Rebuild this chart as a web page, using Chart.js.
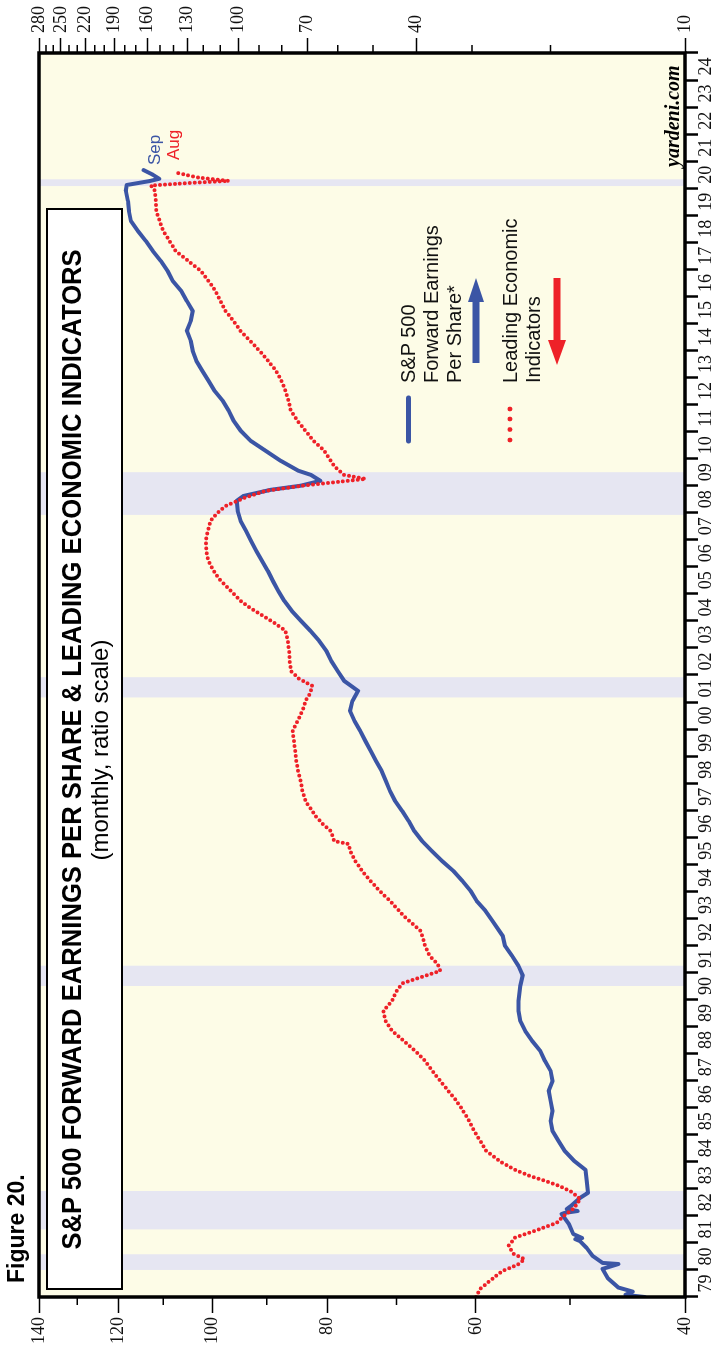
<!DOCTYPE html>
<html>
<head>
<meta charset="utf-8">
<script src="https://cdn.jsdelivr.net/npm/chart.js@4.4.1/dist/chart.umd.min.js"></script>
<style>
  html, body { margin: 0; padding: 0; background: #fff; overflow: hidden; }
  #wrap {
    position: absolute; left: 0; top: 0; width: 1351px; height: 716px;
    transform-origin: 0 0; transform: translate(0, 1351px) rotate(-90deg);
  }
  #chart { position: absolute; left: 0; top: 0; }
  .t { position: absolute; white-space: nowrap; line-height: 1; font-family: "Liberation Sans", Arial, sans-serif; }
  #titleBox { position: absolute; left: 61px; top: 46px; width: 1082px; height: 77px;
    box-sizing: border-box; border: 2.5px solid #000; background: #fff; }
</style>
</head>
<body>
<div id="wrap">
  <canvas id="chart" width="1351" height="716"></canvas>
  <div class="t" id="fig" style="left:68px; top:5px; font-size:23px; font-weight:bold;">Figure 20.</div>
  <div id="titleBox"></div>
  <div class="t" id="title" style="top:58px; font-size:28px; font-weight:bold;">S&amp;P 500 FORWARD EARNINGS PER SHARE &amp; LEADING ECONOMIC INDICATORS</div>
  <div class="t" id="subtitle" style="top:88px; font-size:24px;">(monthly, ratio scale)</div>
  <div class="t" style="left:968px; top:398px; font-size:20px; color:#111;">S&amp;P 500</div>
  <div class="t" style="left:968px; top:421px; font-size:20px; color:#111;">Forward Earnings</div>
  <div class="t" style="left:968px; top:444px; font-size:20px; color:#111;">Per Share*</div>
  <div class="t" style="left:968px; top:500px; font-size:20px; color:#111;">Leading Economic</div>
  <div class="t" style="left:968px; top:523px; font-size:20px; color:#111;">Indicators</div>
  <div class="t" style="left:1186px; top:146px; font-size:17px; color:#3b55a5;">Sep</div>
  <div class="t" style="left:1191px; top:165px; font-size:17px; color:#ee2128;">Aug</div>
  <div class="t" id="yard" style="top:662px; font-size:20px; font-weight:bold; font-style:italic; font-family:'Liberation Serif','Times New Roman',serif;">yardeni.com</div>
</div>
<script>
// S&P 500 forward earnings per share (right scale), decimal year / value
const epsDates = [1979.00, 1979.08, 1979.20, 1979.35, 1979.70, 1980.04, 1980.22, 1980.26, 1980.52, 1980.81,
  1981.07, 1981.14, 1981.18, 1981.33, 1981.70, 1982.07, 1982.11, 1982.18, 1982.25, 1982.37,
  1982.66, 1982.85, 1983.29, 1983.70, 1984.03, 1984.40, 1984.77, 1985.14, 1985.51, 1985.88,
  1986.25, 1986.62, 1986.99, 1987.36, 1987.73, 1988.10, 1988.47, 1988.84, 1989.21, 1989.58,
  1989.95, 1990.50, 1990.90, 1991.24, 1991.61, 1991.98, 1992.35, 1992.91, 1993.28, 1993.65,
  1994.01, 1994.38, 1994.75, 1995.12, 1995.49, 1995.86, 1996.23, 1996.60, 1996.97, 1997.34,
  1997.71, 1998.08, 1998.45, 1998.82, 1999.19, 1999.56, 1999.93, 2000.30, 2000.67, 2001.04,
  2001.41, 2001.78, 2002.15, 2002.52, 2002.89, 2003.26, 2003.63, 2004.00, 2004.37, 2004.74,
  2005.11, 2005.48, 2005.85, 2006.22, 2006.59, 2006.96, 2007.33, 2007.70, 2008.07, 2008.44,
  2008.62, 2008.85, 2009.00, 2009.18, 2009.40, 2009.55, 2009.92, 2010.29, 2010.66, 2011.03,
  2011.40, 2011.77, 2012.14, 2012.51, 2012.88, 2013.25, 2013.62, 2013.99, 2014.36, 2014.73,
  2015.09, 2015.46, 2015.83, 2016.20, 2016.57, 2016.94, 2017.31, 2017.68, 2018.05, 2018.42,
  2018.79, 2019.16, 2019.53, 2019.90, 2020.12, 2020.27, 2020.35, 2020.50, 2020.67];
const epsValues = [12.3, 13.6, 13.1, 14.1, 14.9, 15.3, 14.1, 15.3, 16.1, 16.6,
  17.2, 17.6, 17.0, 17.8, 18.2, 18.9, 18.6, 17.4, 18.4, 18.0,
  17.2, 16.5, 16.6, 16.7, 17.7, 18.6, 19.2, 19.8, 20.0, 19.8,
  20.0, 20.2, 19.8, 20.0, 20.6, 21.1, 22.0, 22.8, 23.4, 23.6,
  23.6, 23.4, 23.1, 23.6, 24.4, 25.3, 25.6, 27.0, 28.0, 29.3,
  30.2, 31.5, 33.0, 35.0, 36.9, 38.8, 40.4, 41.6, 43.0, 44.6,
  45.8, 46.8, 47.8, 49.2, 50.6, 52.0, 53.4, 55.0, 56.3, 55.6,
  54.0, 58.0, 60.0, 62.0, 63.6, 66.0, 69.0, 72.5, 76.0, 79.0,
  81.5, 83.8, 86.0, 88.6, 91.3, 93.8, 96.3, 99.0, 100.5, 101.0,
  97.5, 84.6, 72.6, 65.6, 68.9, 73.4, 80.5, 87.0, 94.0, 98.9,
  102.6, 105.2, 108.5, 113.2, 116.8, 120.6, 124.4, 126.7, 128.0, 130.6,
  128.0, 126.7, 130.6, 134.4, 140.5, 144.2, 149.4, 155.7, 161.4, 168.1,
  174.3, 176.1, 177.0, 178.9, 178.0, 157.7, 150.6, 155.7, 163.3];

// Leading economic indicators (left scale)
const leiDates = [1979.00, 1979.30, 1979.60, 1979.96, 1980.20, 1980.40, 1980.60, 1980.90, 1981.20, 1981.45,
  1981.74, 1982.00, 1982.29, 1982.62, 1982.90, 1983.10, 1983.30, 1983.47, 1983.70, 1984.00,
  1984.40, 1984.77, 1985.14, 1985.51, 1985.88, 1986.25, 1986.62, 1986.99, 1987.36, 1987.73,
  1988.10, 1988.47, 1988.84, 1989.21, 1989.58, 1989.95, 1990.30, 1990.60, 1990.85, 1991.06,
  1991.30, 1991.60, 1991.98, 1992.54, 1993.09, 1993.65, 1994.01, 1994.38, 1994.75, 1995.12,
  1995.50, 1995.75, 1995.86, 1996.23, 1996.50, 1996.79, 1997.34, 1997.71, 1998.08, 1998.45,
  1998.82, 1999.20, 1999.56, 1999.93, 2000.30, 2000.67, 2001.04, 2001.30, 2001.60, 2001.85,
  2002.15, 2002.52, 2002.89, 2003.26, 2003.63, 2003.90, 2004.18, 2004.46, 2004.74, 2005.11,
  2005.48, 2005.85, 2006.22, 2006.59, 2006.96, 2007.33, 2007.70, 2008.00, 2008.25, 2008.55,
  2008.81, 2009.00, 2009.25, 2009.40, 2009.73, 2010.29, 2010.66, 2011.03, 2011.40, 2011.77,
  2012.14, 2012.51, 2012.88, 2013.25, 2013.62, 2013.99, 2014.36, 2014.72, 2015.09, 2015.46,
  2015.83, 2016.20, 2016.57, 2016.94, 2017.31, 2017.68, 2018.05, 2018.42, 2018.79, 2019.16,
  2019.53, 2019.90, 2020.10, 2020.20, 2020.27, 2020.40, 2020.58];
const leiValues = [60.0, 59.5, 58.4, 57.0, 55.3, 54.6, 55.8, 56.3, 55.6, 53.5,
  51.3, 50.6, 49.6, 49.0, 49.9, 51.0, 52.5, 54.0, 55.6, 57.2,
  58.8, 59.5, 60.2, 60.8, 61.5, 62.3, 63.3, 64.3, 65.3, 66.2,
  67.5, 69.0, 70.6, 71.5, 71.8, 70.6, 70.0, 69.2, 66.5, 64.3,
  64.6, 65.6, 66.2, 66.8, 69.0, 70.9, 72.3, 73.6, 74.8, 75.8,
  76.6, 76.8, 79.0, 79.5, 80.8, 81.9, 83.5, 84.0, 84.3, 84.7,
  85.0, 85.2, 85.4, 85.6, 84.8, 84.0, 83.5, 82.8, 82.4, 84.5,
  85.9, 86.1, 86.2, 86.4, 86.8, 88.5, 90.6, 92.8, 94.7, 96.5,
  98.4, 99.8, 100.8, 101.2, 101.3, 100.9, 100.4, 99.0, 97.5, 94.0,
  90.2, 84.0, 74.3, 77.5, 79.0, 80.5, 82.2, 83.5, 84.8, 85.9,
  86.3, 86.8, 87.5, 88.4, 89.8, 91.3, 93.0, 94.7, 96.0, 97.5,
  98.5, 99.4, 100.8, 102.3, 104.8, 107.4, 108.7, 110.0, 110.8, 111.5,
  111.6, 111.8, 112.7, 104.0, 96.9, 103.0, 107.4];

// recessions (start, end as decimal years)
const recessionStart = [1980.00, 1981.50, 1990.50, 2001.17, 2007.92, 2020.08];
const recessionEnd = [1980.58, 1982.92, 1991.25, 2001.92, 2009.50, 2020.33];

const leiTicks = [40, 50, 60, 70, 80, 90, 100, 110, 120, 130, 140];
const leiLabels = [40, 60, 80, 100, 120, 140];
const epsTicks = [10, 20, 30, 40, 50, 60, 70, 80, 90, 100, 110, 120, 130, 140, 150, 160, 170, 180, 190,
  200, 210, 220, 230, 240, 250, 260, 270, 280];
const epsLabels = [10, 40, 70, 100, 130, 160, 190, 220, 250, 280];

const BLUE = '#3b55a5';
const RED = '#ee2128';
const CREAM = '#fdfce7';
const BAND = '#e6e6f2';
const tickFont = { family: "'Liberation Serif', 'Times New Roman', serif", size: 18 };

const decor = {
  id: 'decor',
  beforeDraw(chart) {
    const { ctx, chartArea: a } = chart;
    ctx.save();
    ctx.fillStyle = CREAM;
    ctx.fillRect(a.left, a.top, a.right - a.left, a.bottom - a.top);
    ctx.restore();
  },
  beforeDatasetsDraw(chart) {
    const { ctx, chartArea: a } = chart;
    const x = chart.scales.x;
    ctx.save();
    ctx.fillStyle = BAND;
    recessionStart.forEach((s, i) => {
      const x0 = x.getPixelForValue(s), x1 = x.getPixelForValue(recessionEnd[i]);
      ctx.fillRect(x0, a.top, x1 - x0, a.bottom - a.top);
    });
    ctx.restore();
  },
  afterDatasetsDraw(chart) {
    const { ctx, chartArea: a } = chart;
    ctx.save();
    ctx.strokeStyle = '#000';
    ctx.lineWidth = 3.5;
    ctx.strokeRect(a.left, a.top, a.right - a.left, a.bottom - a.top);
    // minor ticks
    ctx.lineWidth = 1.5;
    ctx.beginPath();
    const yl = chart.scales.yL, yr = chart.scales.yR;
    leiTicks.filter(v => !leiLabels.includes(v)).forEach(v => {
      const y = yl.getPixelForValue(v);
      ctx.moveTo(a.left - 8, y); ctx.lineTo(a.left, y);
    });
    epsTicks.filter(v => !epsLabels.includes(v)).forEach(v => {
      const y = yr.getPixelForValue(v);
      ctx.moveTo(a.right, y); ctx.lineTo(a.right + 8, y);
    });
    ctx.stroke();
    ctx.restore();
  },
  afterDraw(chart) {
    const ctx = chart.ctx;
    ctx.save();
    // legend swatches
    ctx.strokeStyle = BLUE; ctx.lineWidth = 5; ctx.lineCap = 'round';
    ctx.beginPath(); ctx.moveTo(910, 408.5); ctx.lineTo(953, 408.5); ctx.stroke();
    ctx.fillStyle = RED;
    [911, 921.5, 932, 942].forEach(px => { ctx.beginPath(); ctx.arc(px, 510, 2.4, 0, Math.PI * 2); ctx.fill(); });
    // arrows
    ctx.lineCap = 'butt';
    ctx.lineWidth = 7;
    ctx.strokeStyle = BLUE; ctx.fillStyle = BLUE;
    ctx.beginPath(); ctx.moveTo(988, 476); ctx.lineTo(1051, 476); ctx.stroke();
    ctx.beginPath(); ctx.moveTo(1073, 476); ctx.lineTo(1049, 468); ctx.lineTo(1049, 484); ctx.closePath(); ctx.fill();
    ctx.strokeStyle = RED; ctx.fillStyle = RED;
    ctx.beginPath(); ctx.moveTo(1008, 557); ctx.lineTo(1073, 557); ctx.stroke();
    ctx.beginPath(); ctx.moveTo(986, 557); ctx.lineTo(1011, 548); ctx.lineTo(1011, 566); ctx.closePath(); ctx.fill();
    ctx.restore();
  }
};

new Chart(document.getElementById('chart').getContext('2d'), {
  type: 'line',
  data: {
    datasets: [
      {
        label: 'Leading Economic Indicators',
        data: leiDates.map((d, i) => ({ x: d, y: leiValues[i] })),
        yAxisID: 'yL',
        borderColor: RED,
        borderWidth: 4,
        borderDash: [0, 5],
        borderCapStyle: 'round',
        pointRadius: 0,
        tension: 0,
      },
      {
        label: 'S&P 500 Forward Earnings Per Share*',
        data: epsDates.map((d, i) => ({ x: d, y: epsValues[i] })),
        yAxisID: 'yR',
        borderColor: BLUE,
        borderWidth: 4,
        borderJoinStyle: 'round',
        borderCapStyle: 'round',
        pointRadius: 0,
        tension: 0,
      },
    ],
  },
  options: {
    responsive: false,
    animation: false,
    devicePixelRatio: 1,
    layout: { padding: { top: 39, left: 0, right: 0, bottom: 0 } },
    plugins: { legend: { display: false }, tooltip: { enabled: false } },
    scales: {
      x: {
        type: 'linear', min: 1979, max: 2025,
        afterFit: s => { s.height = 31; },
        border: { display: false },
        grid: { drawOnChartArea: false, tickLength: 13, tickWidth: 2.5, tickColor: '#000' },
        ticks: {
          stepSize: 1, autoSkip: false, maxRotation: 0, minRotation: 0,
          labelOffset: 13.5, padding: -3, color: '#111', font: tickFont,
          callback: v => (v < 2025 ? String(v % 100).padStart(2, '0') : ''),
        },
      },
      yL: {
        type: 'logarithmic', position: 'left', min: 40, max: 140,
        afterFit: s => { s.width = 54; },
        afterBuildTicks: s => { s.ticks = leiTicks.map(v => ({ value: v })); },
        border: { display: false },
        grid: { drawOnChartArea: false, tickLength: 16, tickWidth: 1.5,
          tickColor: c => (leiLabels.includes(c.tick.value) ? '#000' : 'rgba(0,0,0,0)') },
        ticks: { autoSkip: false, padding: 4, color: '#111', font: tickFont,
          callback: v => (leiLabels.includes(v) ? String(v) : '') },
      },
      yR: {
        type: 'logarithmic', position: 'right', min: 10, max: 280,
        afterFit: s => { s.width = 53; },
        afterBuildTicks: s => { s.ticks = epsTicks.map(v => ({ value: v })); },
        border: { display: false },
        grid: { drawOnChartArea: false, tickLength: 15, tickWidth: 1.5,
          tickColor: c => (epsLabels.includes(c.tick.value) ? '#000' : 'rgba(0,0,0,0)') },
        ticks: { autoSkip: false, padding: 5, color: '#111', font: tickFont,
          callback: v => (epsLabels.includes(v) ? String(v) : '') },
      },
    },
  },
  plugins: [decor],
});

// squeeze the title into the width of the original condensed face
const title = document.getElementById('title');
const tw = title.offsetWidth;
title.style.left = (601 - tw / 2) + 'px';
title.style.transform = 'scaleX(' + (1000 / tw) + ')';
const sub = document.getElementById('subtitle');
sub.style.left = (601 - sub.offsetWidth / 2) + 'px';
const yard = document.getElementById('yard');
yard.style.left = (1286 - yard.offsetWidth) + 'px';
</script>
</body>
</html>
